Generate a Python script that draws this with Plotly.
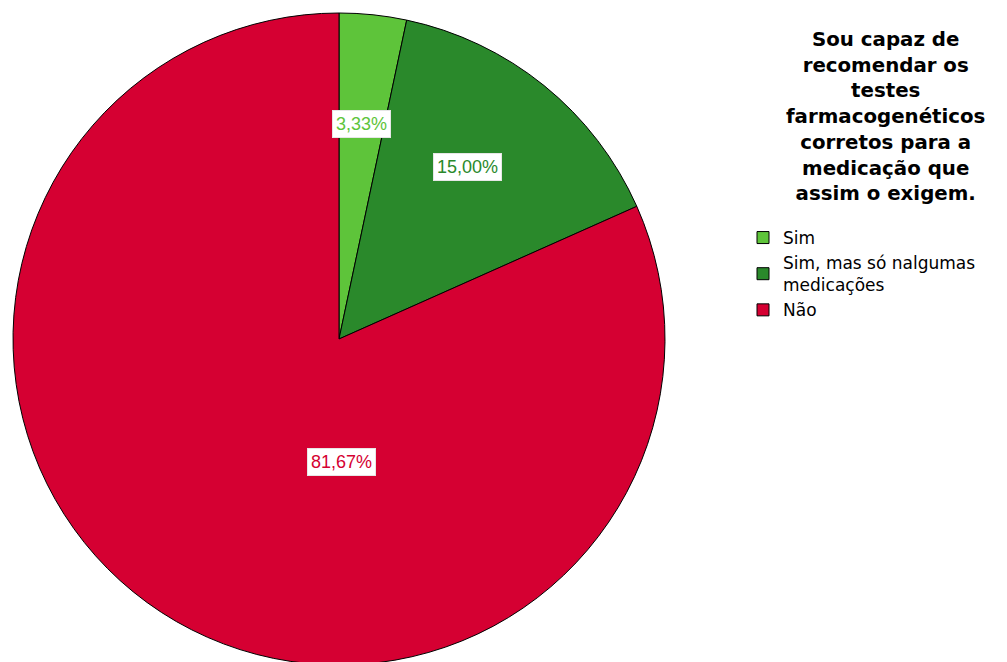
import math
import plotly.graph_objects as go

categories = ["Sim", "Sim, mas só nalgumas<br>medicações", "Não"]
values = [3.33, 15.00, 81.67]
value_labels = ["3,33%", "15,00%", "81,67%"]
colors = ["#5EC43A", "#2A892B", "#D50032"]
title_lines = ["Sou capaz de", "recomendar os", "testes", "farmacogenéticos",
               "corretos para a", "medicação que", "assim o exigem."]

W, H = 1007, 662
OFF = 8  # browser body margin
cx, cy, R = 339 - OFF, 339 - OFF, 326
FONT = "Liberation Sans, Arial, sans-serif"
FONT2 = "DejaVu Sans, Verdana, sans-serif"

fig = go.Figure()
fig.add_trace(go.Pie(
    labels=categories, values=values, sort=False, direction="clockwise",
    rotation=0, textinfo="none", hoverinfo="label+percent",
    marker=dict(colors=colors, line=dict(color="black", width=1)),
    domain=dict(x=[(cx - R) / W, (cx + R) / W],
                y=[max(0, 1 - (cy + R) / H), min(1, 1 - (cy - R) / H)]),
))

# label placement: angle and radius fraction (SPSS-like placement)
total = sum(values)
label_radius = [0.663, 0.659, 0.377]
label_angle_shift = [0, -2.4, None]
start = 0.0
for i, v in enumerate(values):
    mid = start + v / total * 360 / 2
    start += v / total * 360
    ang = mid + label_angle_shift[i] if label_angle_shift[i] is not None else 179.0
    r = label_radius[i] * R
    px = cx + r * math.sin(math.radians(ang))
    py = cy - r * math.cos(math.radians(ang))
    fig.add_annotation(
        x=px / W, y=1 - py / H, xref="paper", yref="paper", showarrow=False,
        xanchor="center", yanchor="middle",
        text=value_labels[i], font=dict(family=FONT, size=18, color=colors[i]),
        bgcolor="white", bordercolor="#e6e6e6", borderwidth=1, borderpad=3,
    )

fig.add_annotation(
    x=(885 - OFF) / W, y=1 - (27 - OFF) / H, xref="paper", yref="paper", showarrow=False,
    xanchor="center", yanchor="top", align="center", borderpad=0,
    text="<b>" + "<br>".join(title_lines) + "</b>",
    font=dict(family=FONT2, size=19.8, color="black"),
)

fig.update_layout(
    width=W, height=H, margin=dict(l=0, r=0, t=0, b=0),
    paper_bgcolor="white", plot_bgcolor="white",
    showlegend=True,
    legend=dict(x=(783 - 40 - OFF) / W, y=1 - (220 - OFF) / H, xanchor="left", yanchor="top",
                font=dict(family=FONT2, size=17, color="black"),
                itemwidth=30, tracegroupgap=0, bgcolor="rgba(0,0,0,0)"),
)

fig.write_html("out.html")
